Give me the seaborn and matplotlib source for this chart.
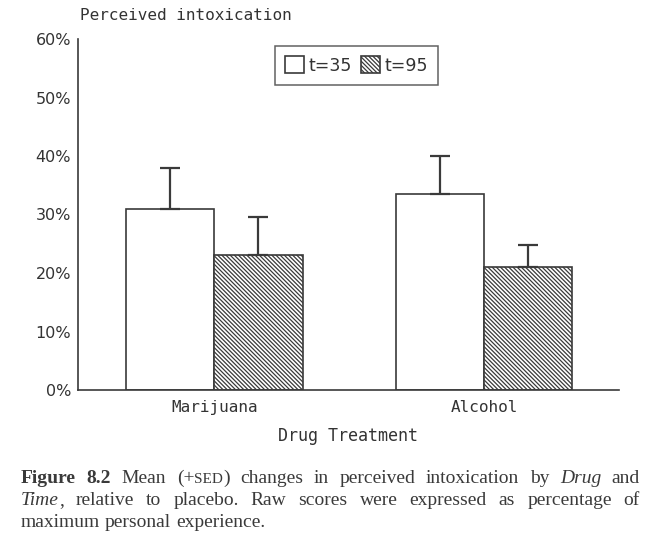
import matplotlib
matplotlib.use("Agg")
import matplotlib.pyplot as plt
import seaborn as sns
import pandas as pd
import numpy as np

# ---- data ----
drugs = ["Marijuana", "Alcohol"]
times = ["t=35", "t=95"]
mean_t35 = [31.0, 33.5]
mean_t95 = [23.0, 21.0]
sed_t35 = [7.0, 6.5]
sed_t95 = [6.5, 3.8]
yticks = [0, 10, 20, 30, 40, 50, 60]
ytick_labels = ["0%", "10%", "20%", "30%", "40%", "50%", "60%"]

df = pd.DataFrame({
    "Drug": drugs * 2,
    "Time": [times[0]] * 2 + [times[1]] * 2,
    "Mean": mean_t35 + mean_t95,
    "SED": sed_t35 + sed_t95,
})

sns.set_style("white")
plt.rcParams["hatch.linewidth"] = 0.9
plt.rcParams["hatch.color"] = "#444444"

ink = "#3a3a3a"
mono = "DejaVu Sans Mono"

fig = plt.figure(figsize=(6.66, 5.46), dpi=100)
ax = fig.add_axes([78 / 666, (546 - 390) / 546, (619 - 78) / 666, (390 - 39) / 546])

sns.barplot(data=df, x="Drug", y="Mean", hue="Time", order=drugs, hue_order=times,
            palette=["white", "white"], width=0.655, edgecolor=ink, linewidth=1.2,
            errorbar=None, ax=ax, legend=False)

# hatch second series
for patch in ax.containers[1].patches:
    patch.set_hatch("\\\\\\\\\\\\\\\\")
    patch.set_edgecolor(ink)

# error bars (upward only)
for cont, t in zip(ax.containers, times):
    sub = df[df["Time"] == t].set_index("Drug").loc[drugs]
    xs = [p.get_x() + p.get_width() / 2 for p in cont.patches]
    ax.errorbar(xs, sub["Mean"].values,
                yerr=[np.zeros(len(xs)), sub["SED"].values],
                fmt="none", ecolor=ink, elinewidth=1.6, capsize=7.5, capthick=1.6,
                zorder=1)

ax.set_ylim(0, 60)
ax.set_xlim(-0.505, 1.50)
ax.set_yticks(yticks)
ax.set_yticklabels(ytick_labels, fontfamily="DejaVu Sans", fontsize=11.5, color="#333333")
ax.tick_params(axis="y", direction="in", length=8, width=1.2, color=ink, pad=5)
ax.tick_params(axis="x", length=0, pad=7)
for lab in ax.get_xticklabels():
    lab.set_fontfamily(mono)
    lab.set_fontsize(11.5)
    lab.set_color("#333333")

sns.despine(ax=ax)
for s in ["left", "bottom"]:
    ax.spines[s].set_color(ink)
    ax.spines[s].set_linewidth(1.2)

ax.set_xlabel("Drug Treatment", fontfamily=mono, fontsize=12, color="#333333", labelpad=9)
ax.set_ylabel("")

fig.text(80 / 666, 1 - 16 / 546, "Perceived intoxication", fontfamily=mono, fontsize=11.5,
         color="#333333", va="center", ha="left")

leg = ax.legend(ax.containers, times, loc="upper left", bbox_to_anchor=(0.348, 1.005),
                ncol=2, frameon=True, fancybox=False, handlelength=1.1, handleheight=1.1,
                handletextpad=0.25, columnspacing=0.5, borderpad=0.6,
                prop={"family": "DejaVu Sans", "size": 12.5})
leg.get_frame().set_edgecolor(ink)
leg.get_frame().set_linewidth(1.1)
for txt in leg.get_texts():
    txt.set_color("#333333")

# ---- caption (justified) ----
serif = "Liberation Serif"
base = {"family": serif, "size": 14, "color": "#3a3a3a"}
bold = dict(base, weight="bold")
ital = dict(base, style="italic")
small = dict(base, size=11)

lines = [
    [[("Figure", bold)], [("8.2", bold)], [("Mean", base)],
     [("(+", base), ("SED", small), (")", base)],
     [("changes", base)], [("in", base)], [("perceived", base)], [("intoxication", base)],
     [("by", base)], [("Drug", ital)], [("and", base)]],
    [[("Time", ital), (",", base)], [("relative", base)], [("to", base)],
     [("placebo.", base)], [("Raw", base)], [("scores", base)], [("were", base)],
     [("expressed", base)], [("as", base)], [("percentage", base)], [("of", base)]],
    [[("maximum", base)], [("personal", base)], [("experience.", base)]],
]
baselines = [483, 505, 527]
x0, x1 = 21, 640

fig.canvas.draw()
renderer = fig.canvas.get_renderer()


def measure(s, props):
    t = fig.text(0, 0, s, fontfamily=props["family"], fontsize=props["size"],
                 fontweight=props.get("weight", "normal"), fontstyle=props.get("style", "normal"))
    w = t.get_window_extent(renderer).width
    t.remove()
    return w


space_w = measure("a b", base) - measure("ab", base)

for i, (words, yb) in enumerate(zip(lines, baselines)):
    widths = [[measure(s, p) for s, p in w] for w in words]
    totals = [sum(w) for w in widths]
    if i < len(lines) - 1:
        gap = (x1 - x0 - sum(totals)) / (len(words) - 1)
    else:
        gap = space_w
    x = x0
    for w, ws in zip(words, widths):
        xx = x
        for (s, p), wd in zip(w, ws):
            fig.text(xx / 666, 1 - yb / 546, s, fontfamily=p["family"], fontsize=p["size"],
                     fontweight=p.get("weight", "normal"), fontstyle=p.get("style", "normal"),
                     color=p["color"], va="baseline", ha="left")
            xx += wd
        x += sum(ws) + gap

fig.savefig("out.png", dpi=100, facecolor="white")
